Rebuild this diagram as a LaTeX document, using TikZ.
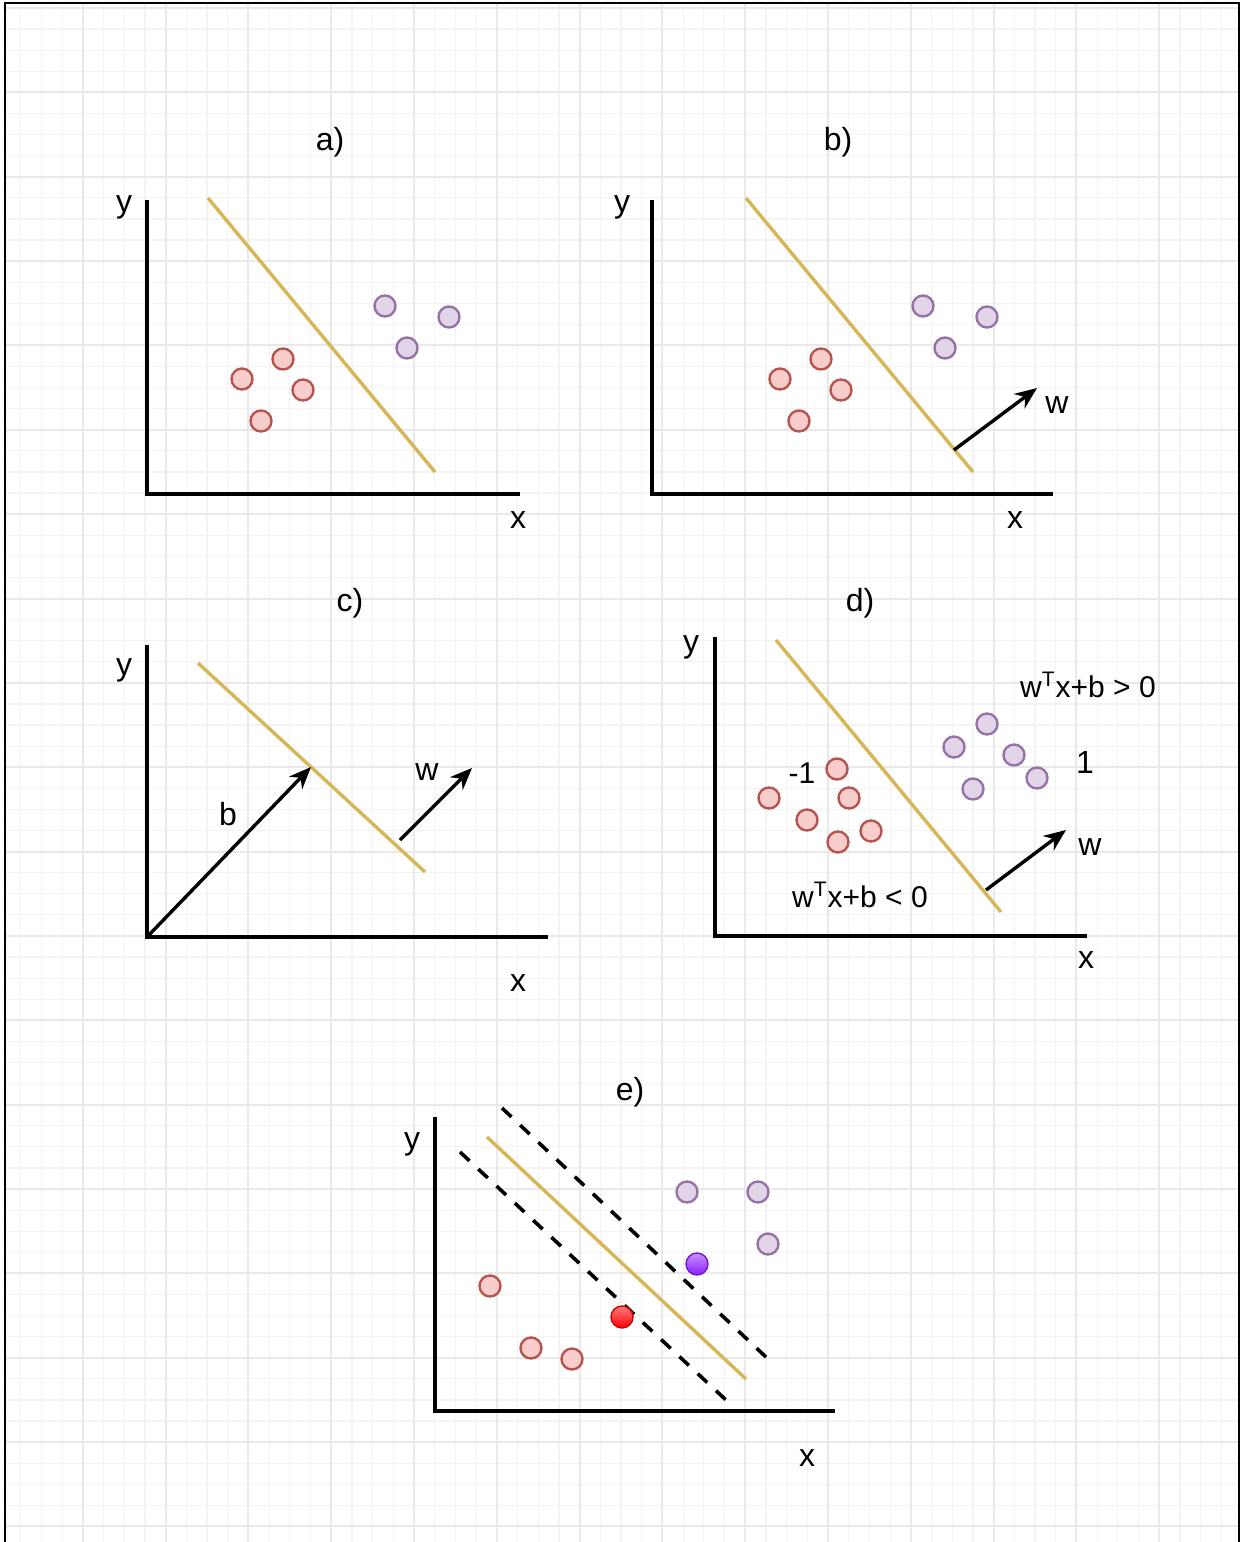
\documentclass[tikz,border=0pt]{standalone}
\usepackage{fontspec}
\setmainfont{Liberation Sans}
\usetikzlibrary{arrows.meta}
\definecolor{ptred}{HTML}{F8CECC}
\definecolor{ptredline}{HTML}{B85450}
\definecolor{ptpurple}{HTML}{E1D5E7}
\definecolor{ptpurpleline}{HTML}{9673A6}
\definecolor{sepgold}{HTML}{D6B656}
\definecolor{gridlight}{HTML}{F3F3F3}
\definecolor{griddark}{HTML}{E9E9E9}
\definecolor{svviolet}{HTML}{8A1EFF}
\definecolor{svvioletlight}{HTML}{C890FF}
\tikzset{
  redpt/.style={circle, draw=ptredline, fill=ptred, line width=1.2pt, minimum size=10.5pt, inner sep=0pt},
  purplept/.style={circle, draw=ptpurpleline, fill=ptpurple, line width=1.2pt, minimum size=10.5pt, inner sep=0pt},
  redsv/.style={circle, draw=red!80!black, top color=red!50, bottom color=red, line width=0.7pt, minimum size=11pt, inner sep=0pt},
  purplesv/.style={circle, draw=svviolet!80!black, top color=svvioletlight, bottom color=svviolet, line width=0.7pt, minimum size=11pt, inner sep=0pt},
  sepline/.style={draw=sepgold, line width=1.7pt},
  marginline/.style={draw=black, line width=1.8pt, dash pattern=on 6.5pt off 6pt},
  axis/.style={draw=black, line width=1.6pt},
  vec/.style={-{Stealth[length=11pt, width=9pt, inset=3.5pt]}, draw=black, line width=1.7pt},
  lbl/.style={anchor=base, inner sep=0pt, font=\fontsize{16}{19}\selectfont},
  ineq/.style={anchor=base, inner sep=0pt, font=\fontsize{15}{18}\selectfont},
  gridminor/.style={draw=gridlight, line width=0.6pt},
  gridmajor/.style={draw=griddark, line width=1pt}
}

\begin{document}
\begin{tikzpicture}[x=0.5pt, y=-0.5pt]
  \useasboundingbox (0,0) rectangle (1253,1542);
  % background grid
  \begin{scope}
    \clip (5,3) rectangle (1239,1542);
    \foreach \i in {0,...,60} \draw[gridminor] ({\i*20.7},0) -- ({\i*20.7},1542);
    \foreach \j in {-1,...,73} \draw[gridminor] (0,{8+\j*21.09}) -- (1253,{8+\j*21.09});
    \foreach \i in {0,...,15} \draw[gridmajor] ({\i*82.8},0) -- ({\i*82.8},1542);
    \foreach \j in {0,...,18} \draw[gridmajor] (0,{8+\j*84.36}) -- (1253,{8+\j*84.36});
  \end{scope}
  \draw[line width=1.1pt] (5,3) rectangle (1239,1560);

  % a)
  \node[lbl] (a-cap) at (330,150) {a)};
  \coordinate (a-top) at (147,200);
  \coordinate (a-org) at (147,494);
  \coordinate (a-end) at (520,494);
  \draw[axis] (a-top) -- (a-org) -- (a-end);
  \node[lbl] (a-y) at (124,212) {y};
  \node[lbl] (a-x) at (518,528) {x};
  \coordinate (a-s1) at (208,198);
  \coordinate (a-s2) at (435,472);
  \draw[sepline] (a-s1) -- (a-s2);
  \node[redpt] (a-r1) at (242,379) {};
  \node[redpt] (a-r2) at (283,359) {};
  \node[redpt] (a-r3) at (303,390) {};
  \node[redpt] (a-r4) at (261,421) {};
  \node[purplept] (a-p1) at (385,306) {};
  \node[purplept] (a-p2) at (449,317) {};
  \node[purplept] (a-p3) at (407,348) {};

  % b)
  \node[lbl] (b-cap) at (838,150) {b)};
  \coordinate (b-top) at (652,200);
  \coordinate (b-org) at (652,494);
  \coordinate (b-end) at (1053,494);
  \draw[axis] (b-top) -- (b-org) -- (b-end);
  \node[lbl] (b-y) at (622,212) {y};
  \node[lbl] (b-x) at (1015,528) {x};
  \coordinate (b-s1) at (746,198);
  \coordinate (b-s2) at (973,472);
  \draw[sepline] (b-s1) -- (b-s2);
  \node[redpt] (b-r1) at (780,379) {};
  \node[redpt] (b-r2) at (821,359) {};
  \node[redpt] (b-r3) at (841,390) {};
  \node[redpt] (b-r4) at (799,421) {};
  \node[purplept] (b-p1) at (923,306) {};
  \node[purplept] (b-p2) at (987,317) {};
  \node[purplept] (b-p3) at (945,348) {};
  \coordinate (b-w0) at (954,450);
  \coordinate (b-w1) at (1037,388);
  \draw[vec] (b-w0) -- (b-w1);
  \node[lbl] (b-w) at (1057,413) {w};

  % c)
  \node[lbl] (c-cap) at (350,611) {c)};
  \coordinate (c-top) at (147,645);
  \coordinate (c-org) at (147,937);
  \coordinate (c-end) at (548,937);
  \draw[axis] (c-top) -- (c-org) -- (c-end);
  \node[lbl] (c-y) at (124,675) {y};
  \node[lbl] (c-x) at (518,991) {x};
  \coordinate (c-s1) at (198,663);
  \coordinate (c-s2) at (425,872);
  \draw[sepline] (c-s1) -- (c-s2);
  \coordinate (c-b1) at (311,767);
  \draw[vec] (c-org) -- (c-b1);
  \node[lbl] (c-b) at (228,825) {b};
  \coordinate (c-w0) at (400,840);
  \coordinate (c-w1) at (472,768);
  \draw[vec] (c-w0) -- (c-w1);
  \node[lbl] (c-w) at (427,780) {w};

  % d)
  \node[lbl] (d-cap) at (860,611) {d)};
  \coordinate (d-top) at (715,637);
  \coordinate (d-org) at (715,936);
  \coordinate (d-end) at (1087,936);
  \draw[axis] (d-top) -- (d-org) -- (d-end);
  \node[lbl] (d-y) at (691,652) {y};
  \node[lbl] (d-x) at (1086,968) {x};
  \coordinate (d-s1) at (776,640);
  \coordinate (d-s2) at (1001,912);
  \draw[sepline] (d-s1) -- (d-s2);
  \node[redpt] (d-r1) at (837,769) {};
  \node[redpt] (d-r2) at (769,798) {};
  \node[redpt] (d-r3) at (849,798) {};
  \node[redpt] (d-r4) at (807,820) {};
  \node[redpt] (d-r5) at (871,831) {};
  \node[redpt] (d-r6) at (838,842) {};
  \node[purplept] (d-p1) at (987,724) {};
  \node[purplept] (d-p2) at (954,747) {};
  \node[purplept] (d-p3) at (1014,755) {};
  \node[purplept] (d-p4) at (1037,778) {};
  \node[purplept] (d-p5) at (973,789) {};
  \node[ineq] (d-neg) at (802,783) {-1};
  \node[lbl] (d-pos) at (1085,773) {1};
  \node[ineq] (d-gt) at (1088,697) {w\textsuperscript{T}x+b > 0};
  \node[ineq] (d-lt) at (860,907) {w\textsuperscript{T}x+b < 0};
  \coordinate (d-w0) at (986,890);
  \coordinate (d-w1) at (1066,830);
  \draw[vec] (d-w0) -- (d-w1);
  \node[lbl] (d-w) at (1090,855) {w};

  % e)
  \node[lbl] (e-cap) at (630,1100) {e)};
  \coordinate (e-top) at (435,1117);
  \coordinate (e-org) at (435,1411);
  \coordinate (e-end) at (835,1411);
  \draw[axis] (e-top) -- (e-org) -- (e-end);
  \node[lbl] (e-y) at (412,1149) {y};
  \node[lbl] (e-x) at (807,1466) {x};
  \coordinate (e-s1) at (487,1137);
  \coordinate (e-s2) at (746,1379);
  \draw[sepline] (e-s1) -- (e-s2);
  \coordinate (e-m1) at (502,1108);
  \coordinate (e-m2) at (767,1358);
  \coordinate (e-n1) at (460,1152);
  \coordinate (e-n2) at (726,1400);
  \draw[marginline] (e-m1) -- (e-m2);
  \draw[marginline] (e-n1) -- (e-n2);
  \node[redpt] (e-r1) at (490,1286) {};
  \node[redpt] (e-r2) at (531,1348) {};
  \node[redpt] (e-r3) at (572,1359) {};
  \node[redsv] (e-r4) at (622,1317) {};
  \node[purplept] (e-p1) at (687,1192) {};
  \node[purplept] (e-p2) at (758,1192) {};
  \node[purplept] (e-p3) at (768,1244) {};
  \node[purplesv] (e-p4) at (697,1264) {};
\end{tikzpicture}
\end{document}
